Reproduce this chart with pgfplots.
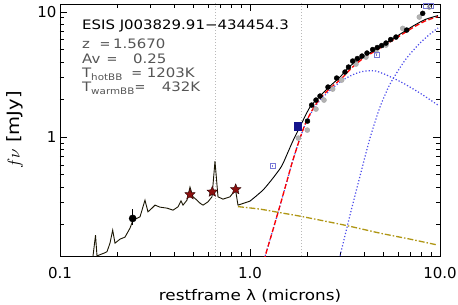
\documentclass[border=0pt]{standalone}
\usepackage{fontspec}
\setmainfont{DejaVu Sans}
\newfontfamily\wfont[FakeStretch=1.15]{DejaVu Sans}
\usepackage{pgfplots}
\pgfplotsset{compat=1.18}
\definecolor{hotblue}{RGB}{75,75,235}
\definecolor{olivepl}{RGB}{175,150,20}
\definecolor{starred}{RGB}{140,15,15}
\definecolor{navysq}{RGB}{20,20,140}
\definecolor{opensq}{RGB}{120,120,215}
\definecolor{txtgray}{RGB}{85,85,85}
\pgfdeclareplotmark{fstar}{%
  \pgfpathmoveto{\pgfpointpolar{90}{\pgfplotmarksize}}%
  \pgfpathlineto{\pgfpointpolar{126}{0.45\pgfplotmarksize}}%
  \pgfpathlineto{\pgfpointpolar{162}{\pgfplotmarksize}}%
  \pgfpathlineto{\pgfpointpolar{198}{0.45\pgfplotmarksize}}%
  \pgfpathlineto{\pgfpointpolar{234}{\pgfplotmarksize}}%
  \pgfpathlineto{\pgfpointpolar{270}{0.45\pgfplotmarksize}}%
  \pgfpathlineto{\pgfpointpolar{306}{\pgfplotmarksize}}%
  \pgfpathlineto{\pgfpointpolar{342}{0.45\pgfplotmarksize}}%
  \pgfpathlineto{\pgfpointpolar{18}{\pgfplotmarksize}}%
  \pgfpathlineto{\pgfpointpolar{54}{0.45\pgfplotmarksize}}%
  \pgfpathclose
  \pgfusepathqfillstroke
}
\begin{document}
\begin{tikzpicture}
\begin{axis}[
  scale only axis, width=380pt, height=252pt,
  xmode=log, ymode=log,
  xmin=0.1, xmax=10, ymin=0.112, ymax=11.6,
  xtick={0.1,1,10}, xticklabels={0.1,1.0,10.0},
  ytick={1,10}, yticklabels={1,10},
  minor xtick={0.2,0.3,0.4,0.5,0.6,0.7,0.8,0.9,2,3,4,5,6,7,8,9},
  minor ytick={0.2,0.3,0.4,0.5,0.6,0.7,0.8,0.9,2,3,4,5,6,7,8,9},
  major tick length=7pt, minor tick length=4pt,
  tick style={black, line width=0.6pt},
  axis line style={line width=0.8pt},
  tick label style={font=\fontsize{15}{17}\selectfont},
  xticklabel style={yshift=-8pt},
  xlabel={restframe λ (microns)},
  ylabel={$f\nu$ [mJy]},
  xlabel style={font=\wfont\fontsize{14.6}{16}\selectfont, at={(axis description cs:0.5,-0.1766)}, anchor=base},
  ylabel style={font=\wfont\fontsize{17}{19}\selectfont, at={(axis description cs:-0.1184,0.5)}, anchor=center},
]
% emission line markers
\addplot[gray!55, line width=0.8pt, dash pattern=on 1pt off 2pt] coordinates {(0.6563,0.1) (0.6563,12)};
\addplot[gray!55, line width=0.8pt, dash pattern=on 1pt off 2pt] coordinates {(1.875,0.1) (1.875,12)};
% hot blackbody
\addplot[hotblue, line width=1.2pt, dash pattern=on 1.2pt off 2pt, smooth, tension=0.4] coordinates {
(1.157,0.0895)(1.199,0.1102)(1.305,0.1706)(1.416,0.2606)(1.528,0.3908)(1.664,0.6194)(1.818,0.946)(1.971,1.306)(2.172,1.706)(2.393,2.051)(2.702,2.443)(3.050,2.831)(3.442,3.133)(3.793,3.311)(4.179,3.392)(4.605,3.373)(5.243,3.133)(6.388,2.704)(7.848,2.249)(9.761,1.803)};
% warm blackbody
\addplot[hotblue, line width=1.2pt, dash pattern=on 1.2pt off 2pt, smooth, tension=0.4] coordinates {
(2.870,0.0895)(2.976,0.1117)(3.360,0.2377)(3.793,0.4875)(4.281,0.9817)(4.833,1.738)(5.456,2.655)(6.388,3.908)(6.952,4.613)(7.848,5.649)(8.859,6.668)(9.761,7.447)};
% power law
\addplot[olivepl, line width=1.3pt, dash pattern=on 6pt off 2pt on 1.5pt off 2pt, smooth, tension=0.4] coordinates {
(0.8646,0.278)(1.129,0.2655)(1.438,0.2489)(1.833,0.2333)(2.336,0.2168)(3.239,0.1959)(4.833,0.1706)(6.952,0.1528)(9.526,0.138)};
% dust sum
\addplot[red, line width=1.3pt, dash pattern=on 5pt off 2.5pt, smooth, tension=0.4] coordinates {
(1.157,0.0895)(1.199,0.1102)(1.305,0.1706)(1.416,0.2606)(1.528,0.3908)(1.664,0.6194)(1.818,0.946)(1.971,1.318)(2.172,1.738)(2.393,2.128)(2.702,2.535)(3.050,2.965)(3.442,3.597)(3.933,4.246)(4.833,5.152)(5.938,6.252)(7.208,7.516)(8.338,8.472)(9.761,9.204)};
% total model
\addplot[black!85!olivepl, line width=0.9pt] coordinates {
(0.1492,0.112)(0.1538,0.1644)(0.1566,0.112)(0.1624,0.1148)(0.1704,0.1180)(0.1768,0.1213)(0.1833,0.1419)(0.1894,0.1803)(0.1948,0.1419)(0.2069,0.1528)(0.2198,0.1585)(0.2336,0.1871)(0.2422,0.2168)(0.2637,0.2303)(0.2801,0.3133)(0.2904,0.2525)(0.3049,0.2704)(0.3162,0.2858)(0.3360,0.2754)(0.3658,0.2704)(0.3934,0.2606)(0.4179,0.2770)(0.4334,0.3093)(0.4440,0.2858)(0.4661,0.3133)(0.4833,0.3981)(0.5012,0.3330)(0.5259,0.3133)(0.5456,0.2965)(0.5658,0.2858)(0.6010,0.3037)(0.6310,0.3330)(0.6543,0.6427)(0.6786,0.3330)(0.7210,0.3192)(0.7848,0.3330)(0.8387,0.3802)(0.8646,0.2858)(1.0,0.3076)};
\addplot[black, line width=0.9pt, smooth, tension=0.4] coordinates {
(1.0,0.3076)(1.170,0.377)(1.321,0.470)(1.468,0.586)(1.585,0.759)(1.690,0.946)(1.866,1.282)(2.069,1.738)(2.336,2.128)(2.637,2.559)(2.976,3.020)(3.360,3.698)(3.933,4.365)(4.833,5.278)(5.938,6.427)(6.545,7.047)(7.208,7.727)(8.338,8.710)(9.761,9.376)};
% gray photometry
\addplot[only marks, mark=*, mark size=2.5pt, color=gray!70, fill=gray!60] coordinates {
(1.796,0.9817)(2.002,1.138)(2.225,1.675)(2.452,1.977)(2.724,2.421)(3.039,2.858)(3.613,3.837)(4.078,4.365)(4.605,4.875)(5.197,5.445)(6.365,7.406)(7.783,9.120)};
% black photometry
\addplot[only marks, mark=*, mark size=2.5pt, black] coordinates {
(2.007,1.343)(2.112,1.803)(2.225,1.977)(2.336,2.128)(2.573,2.512)(2.859,2.965)(3.162,3.311)(3.300,3.631)(3.471,4.055)(3.671,4.246)(3.886,4.446)(4.129,4.699)(4.424,5.012)(4.677,5.200)(4.934,5.395)(5.197,5.649)(5.503,6.026)(5.866,6.310)(6.679,7.178)(8.108,9.763)};
% open squares
\addplot[only marks, mark=square, mark size=2.6pt, opensq, mark options={line width=0.6pt}] coordinates {
(1.317,0.586)(4.64,4.53)(8.44,11.3)(8.93,11.3)};
\addplot[opensq, line width=0.5pt] coordinates {(1.317,0.572)(1.317,0.600)};
\addplot[opensq, line width=0.5pt] coordinates {(4.64,4.42)(4.64,4.64)};
\addplot[only marks, mark=otimes, mark size=2.2pt, gray] coordinates {(8.78,10.9)};
% filled square
\addplot[only marks, mark=square*, mark size=3.6pt, navysq] coordinates {(1.782,1.224)};
% stars
\addplot[only marks, mark=fstar, mark size=5.5pt, mark options={fill=starred, draw=black!70!starred, line width=0.4pt}] coordinates {
(0.4833,0.348)(0.633,0.365)(0.841,0.382)};
% circle with error bar
\addplot[black, line width=0.8pt] coordinates {(0.2413,0.198)(0.2413,0.264)};
\addplot[only marks, mark=*, mark size=3.6pt, black] coordinates {(0.2413,0.2237)};
\end{axis}
\begin{scope}[shift={(current axis.south west)}, x=1pt, y=1pt]
\node[anchor=base west, inner sep=0, font=\wfont\fontsize{13}{15}\selectfont] at (22,226) {ESIS J003829.91−434454.3};
\begin{scope}[every node/.style={anchor=base west, inner sep=0, font=\wfont\fontsize{13}{15}\selectfont, text=txtgray}]
\node at (22,207.7) {z}; \node[font=\fontsize{13}{15}\selectfont] at (39.5,207.7) {=}; \node at (53,207.7) {1.5670};
\node at (22,192.7) {Av}; \node[font=\fontsize{13}{15}\selectfont] at (46.5,192.7) {=}; \node at (73,192.7) {0.25};
\node at (22,178.7) {T}; \node[font=\wfont\fontsize{9}{10}\selectfont] at (31,175.7) {hotBB}; \node[font=\fontsize{13}{15}\selectfont] at (71.2,178.7) {=}; \node at (86.7,178.7) {1203K};
\node at (22,164.3) {T}; \node[font=\wfont\fontsize{9}{10}\selectfont] at (31,161.3) {warmBB}; \node[font=\fontsize{13}{15}\selectfont] at (74.5,164.3) {=}; \node at (101.7,164.3) {432K};
\end{scope}
\end{scope}
\pgfresetboundingbox
\path[use as bounding box] ([shift={(-60pt,-49pt)}]current axis.south west) rectangle ([shift={(398pt,256pt)}]current axis.south west);
\end{tikzpicture}
\end{document}
